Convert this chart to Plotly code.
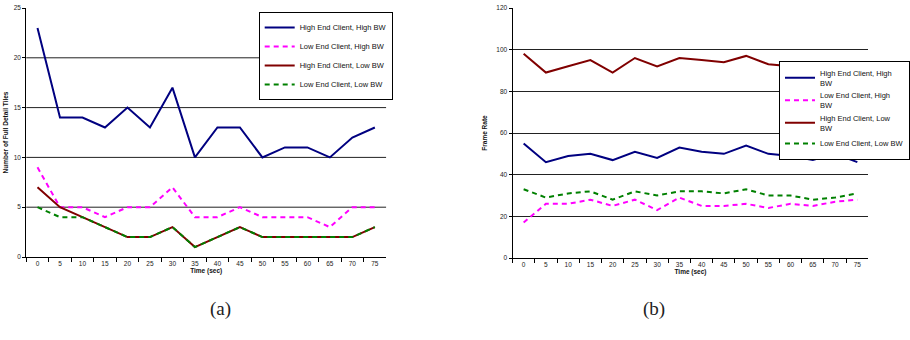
import plotly.graph_objects as go

times = ["0", "5", "10", "15", "20", "25", "30", "35", "40", "45", "50", "55", "60", "65", "70", "75"]

# (a) Number of Full Detail Tiles
tiles_high_end_high_bw = [23, 14, 14, 13, 15, 13, 17, 10, 13, 13, 10, 11, 11, 10, 12, 13]
tiles_low_end_high_bw = [9, 5, 5, 4, 5, 5, 7, 4, 4, 5, 4, 4, 4, 3, 5, 5]
tiles_high_end_low_bw = [7, 5, 4, 3, 2, 2, 3, 1, 2, 3, 2, 2, 2, 2, 2, 3]
tiles_low_end_low_bw = [5, 4, 4, 3, 2, 2, 3, 1, 2, 3, 2, 2, 2, 2, 2, 3]

# (b) Frame Rate
fps_high_end_high_bw = [55, 46, 49, 50, 47, 51, 48, 53, 51, 50, 54, 50, 49, 47, 50, 46]
fps_low_end_high_bw = [17, 26, 26, 28, 25, 28, 23, 29, 25, 25, 26, 24, 26, 25, 27, 28]
fps_high_end_low_bw = [98, 89, 92, 95, 89, 96, 92, 96, 95, 94, 97, 93, 92, 89, 92, 94]
fps_low_end_low_bw = [33, 29, 31, 32, 28, 32, 30, 32, 32, 31, 33, 30, 30, 28, 29, 31]

names_a = ["High End Client, High BW", "Low End Client, High BW",
           "High End Client, Low BW", "Low End Client, Low BW"]
names_b = ["High End Client, High<br>BW", "Low End Client, High<br>BW",
           "High End Client, Low<br>BW", "Low End Client, Low BW"]
colors = ["#000080", "#FF00FF", "#800000", "#008000"]
dashes = ["solid", "5px,4px", "solid", "5px,4px"]
left_grid = [5, 10, 15, 20]

W, H = 910, 340
def px(x):
    return x / W
def py(y):
    return 1 - y / H

fig = go.Figure()
series_a = [tiles_high_end_high_bw, tiles_low_end_high_bw, tiles_high_end_low_bw, tiles_low_end_low_bw]
series_b = [fps_high_end_high_bw, fps_low_end_high_bw, fps_high_end_low_bw, fps_low_end_low_bw]
for i in range(4):
    fig.add_trace(go.Scatter(x=times, y=series_a[i], mode="lines", name=names_a[i],
                             line=dict(color=colors[i], width=2, dash=dashes[i]),
                             xaxis="x", yaxis="y", legend="legend"))
order_b = [2, 0, 3, 1]
for i in order_b:
    fig.add_trace(go.Scatter(x=times, y=series_b[i], mode="lines", name=names_b[i],
                             line=dict(color=colors[i], width=2, dash=dashes[i]),
                             xaxis="x2", yaxis="y2", legend="legend2", legendrank=i + 1))

tickfont = dict(family="Liberation Sans, Arial", size=6.5, color="#222")
titlefont = dict(family="Liberation Sans, Arial", size=6.5, color="#111", weight="bold")
legfont = dict(family="Liberation Sans, Arial", size=7.5, color="#111")

xcommon = dict(type="category", tickson="boundaries", ticks="outside", ticklen=4,
               tickcolor="black", showline=True, linecolor="black", linewidth=1,
               showgrid=False, tickfont=tickfont, range=[-0.5, 15.5], automargin=False,
               title=dict(text="Time (sec)", font=titlefont, standoff=2))
fig.update_layout(
    width=W, height=H, margin=dict(l=0, r=0, t=0, b=0),
    paper_bgcolor="white", plot_bgcolor="white",
    xaxis=dict(domain=[px(27), px(397)], anchor="y", **xcommon),
    xaxis2=dict(domain=[px(527), px(893)], anchor="y2", **xcommon),
    yaxis=dict(domain=[py(257), py(8)], anchor="x", range=[0, 25], dtick=5,
               showgrid=False, zeroline=False, showline=True, linecolor="black",
               ticks="outside", ticklen=3, tickcolor="black", tickfont=tickfont,
               automargin=False,
               title=dict(text="Number of Full Detail Tiles", font=titlefont, standoff=4)),
    yaxis2=dict(domain=[py(258), py(8)], anchor="x2", range=[0, 120], dtick=20,
                showgrid=True, gridcolor="#222", gridwidth=1, zeroline=False,
                showline=True, linecolor="black", ticks="outside", ticklen=3,
                tickcolor="black", tickfont=tickfont, automargin=False,
                title=dict(text="Frame Rate", font=titlefont, standoff=8)),
    legend=dict(x=px(266), y=py(56), xanchor="left", yanchor="middle",
                bordercolor="black", borderwidth=1, bgcolor="white",
                font=legfont, itemwidth=30, tracegroupgap=0),
    legend2=dict(x=px(801), y=py(110), xanchor="left", yanchor="middle",
                 bordercolor="black", borderwidth=1, bgcolor="white",
                 font=legfont, itemwidth=30, tracegroupgap=0, traceorder="normal"),
    showlegend=True,
)
for v in left_grid:
    fig.add_shape(type="line", x0=0, x1=1, y0=v, y1=v, xref="x domain", yref="y",
                  line=dict(color="#222", width=1), layer="below")

capfont = dict(family="Liberation Serif, DejaVu Serif", size=19, color="#222")
fig.add_annotation(text="(a)", x=px(214), y=py(322), xref="paper", yref="paper",
                   showarrow=False, font=capfont)
fig.add_annotation(text="(b)", x=px(686), y=py(322), xref="paper", yref="paper",
                   showarrow=False, font=capfont)

fig.write_html("out.html", config={"displayModeBar": False},
               post_script="document.body.style.margin='0';document.body.style.overflow='hidden';")
